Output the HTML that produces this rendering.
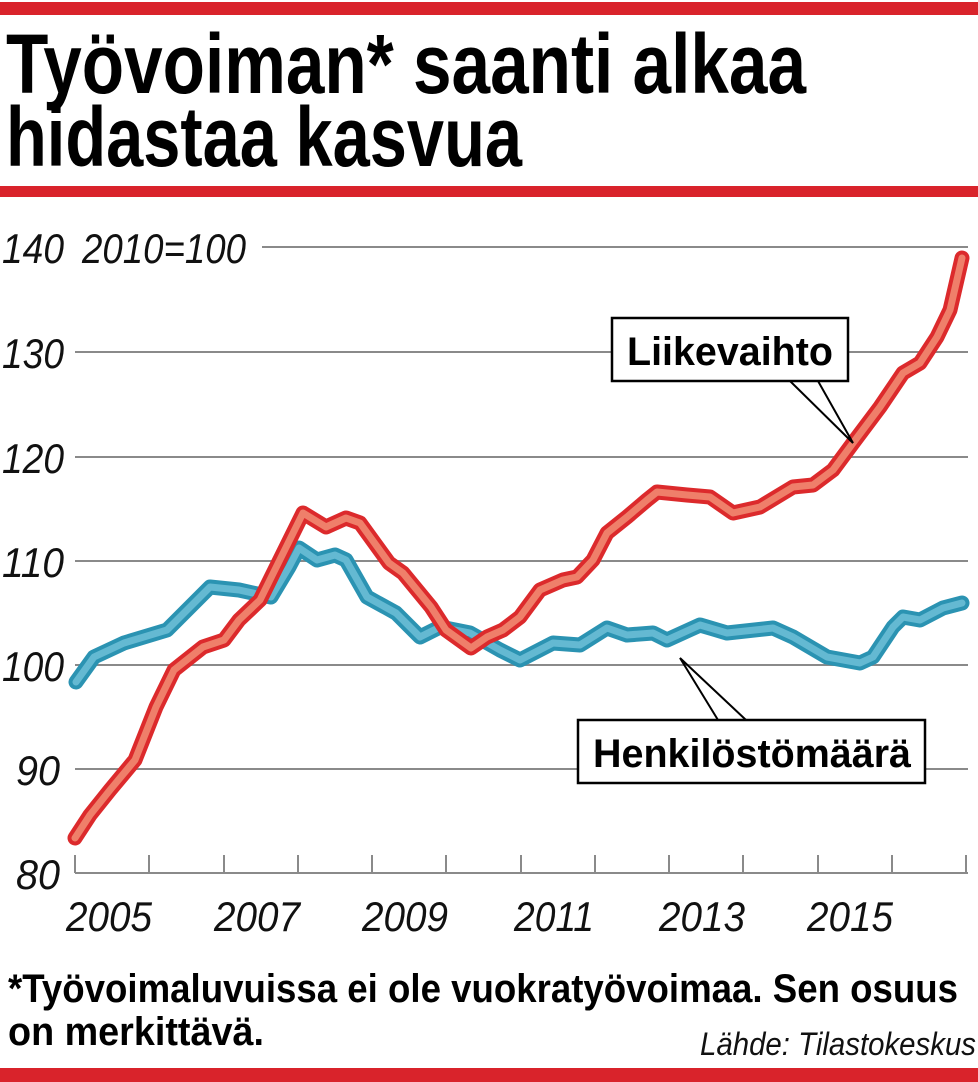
<!DOCTYPE html>
<html><head><meta charset="utf-8"><style>
html,body{margin:0;padding:0;background:#fff;width:978px;height:1082px;overflow:hidden}
svg{display:block}
</style></head><body>
<svg width="978" height="1082" viewBox="0 0 978 1082" xmlns="http://www.w3.org/2000/svg">
<rect x="0" y="2" width="978" height="13" fill="#d9232b"/>
<rect x="0" y="186" width="978" height="11" fill="#d9232b"/>
<rect x="0" y="1068" width="978" height="14" fill="#d9232b"/>
<g font-family="Liberation Sans, sans-serif" font-weight="bold" fill="#000">
<text x="6" y="93" font-size="84" textLength="800" lengthAdjust="spacingAndGlyphs">Työvoiman* saanti alkaa</text>
<text x="6" y="166" font-size="84" textLength="516" lengthAdjust="spacingAndGlyphs">hidastaa kasvua</text>
</g>
<g stroke="#8a8a8a" stroke-width="2">
<line x1="262" y1="247" x2="968" y2="247"/>
<line x1="75" y1="352" x2="968" y2="352"/>
<line x1="75" y1="457" x2="968" y2="457"/>
<line x1="75" y1="561" x2="968" y2="561"/>
<line x1="75" y1="665" x2="968" y2="665"/>
<line x1="75" y1="769" x2="968" y2="769"/>
<line x1="75" y1="873" x2="968" y2="873"/>
</g>
<g stroke="#8a8a8a" stroke-width="2">
<line x1="75" y1="855" x2="75" y2="873"/><line x1="149" y1="855" x2="149" y2="873"/><line x1="224" y1="855" x2="224" y2="873"/><line x1="298" y1="855" x2="298" y2="873"/><line x1="372" y1="855" x2="372" y2="873"/><line x1="446" y1="855" x2="446" y2="873"/><line x1="521" y1="855" x2="521" y2="873"/><line x1="595" y1="855" x2="595" y2="873"/><line x1="669" y1="855" x2="669" y2="873"/><line x1="743" y1="855" x2="743" y2="873"/><line x1="818" y1="855" x2="818" y2="873"/><line x1="892" y1="855" x2="892" y2="873"/><line x1="966" y1="855" x2="966" y2="873"/>
</g>
<g font-family="Liberation Sans, sans-serif" font-style="italic" font-size="42" fill="#111">
<text x="2" y="263" textLength="62" lengthAdjust="spacingAndGlyphs">140</text>
<text x="82" y="263" textLength="164" lengthAdjust="spacingAndGlyphs">2010=100</text>
<text x="2" y="368" textLength="62" lengthAdjust="spacingAndGlyphs">130</text>
<text x="2" y="473" textLength="62" lengthAdjust="spacingAndGlyphs">120</text>
<text x="2" y="577" textLength="62" lengthAdjust="spacingAndGlyphs">110</text>
<text x="2" y="681" textLength="62" lengthAdjust="spacingAndGlyphs">100</text>
<text x="16" y="785" textLength="44" lengthAdjust="spacingAndGlyphs">90</text>
<text x="16" y="889" textLength="44" lengthAdjust="spacingAndGlyphs">80</text>
<text x="66" y="931" textLength="86" lengthAdjust="spacingAndGlyphs">2005</text>
<text x="214" y="931" textLength="86" lengthAdjust="spacingAndGlyphs">2007</text>
<text x="362" y="931" textLength="86" lengthAdjust="spacingAndGlyphs">2009</text>
<text x="514" y="931" textLength="80" lengthAdjust="spacingAndGlyphs">2011</text>
<text x="659" y="931" textLength="86" lengthAdjust="spacingAndGlyphs">2013</text>
<text x="807" y="931" textLength="86" lengthAdjust="spacingAndGlyphs">2015</text>
</g>
<g fill="none" stroke-linecap="round" stroke-linejoin="round">
<path d="M76,682 L94,657 124,643 167,630 210,587 239,590 271,597 289,567 299,548 317,560 335,555 346,560 367,597 396,613 420,637 440,627 470,633 500,650 520,660 553,643 580,645 607,628 627,635 653,633 667,640 700,625 727,633 773,628 793,637 827,657 860,663 873,657 893,627 903,617 920,620 943,608 962,603" stroke="#2b93b2" stroke-width="15"/>
<path d="M76,682 L94,657 124,643 167,630 210,587 239,590 271,597 289,567 299,548 317,560 335,555 346,560 367,597 396,613 420,637 440,627 470,633 500,650 520,660 553,643 580,645 607,628 627,635 653,633 667,640 700,625 727,633 773,628 793,637 827,657 860,663 873,657 893,627 903,617 920,620 943,608 962,603" stroke="#64b9d2" stroke-width="7"/>
<path d="M75,838 L90,815 110,790 135,760 156,707 174,670 203,647 224,640 239,620 260,600 303,513 326,527 346,518 360,523 389,563 403,573 431,607 446,630 471,648 487,637 503,630 520,617 540,590 563,580 577,577 593,560 607,533 627,517 647,500 657,492 687,495 710,497 733,513 760,507 793,487 813,485 833,470 853,443 880,407 903,373 920,363 937,337 950,310 962,258" stroke="#dc2a2c" stroke-width="15"/>
<path d="M75,838 L90,815 110,790 135,760 156,707 174,670 203,647 224,640 239,620 260,600 303,513 326,527 346,518 360,523 389,563 403,573 431,607 446,630 471,648 487,637 503,630 520,617 540,590 563,580 577,577 593,560 607,533 627,517 647,500 657,492 687,495 710,497 733,513 760,507 793,487 813,485 833,470 853,443 880,407 903,373 920,363 937,337 950,310 962,258" stroke="#ef7f6a" stroke-width="7"/>
</g>
<g stroke="#000" stroke-width="2" fill="none">
<polyline points="790,381 853,443 818,381"/>
<polyline points="718,720 680,658 746,720"/>
</g>
<rect x="612" y="318" width="236" height="63" fill="#fff" stroke="#000" stroke-width="2.5"/>
<rect x="578" y="720" width="347" height="63" fill="#fff" stroke="#000" stroke-width="2.5"/>
<g font-family="Liberation Sans, sans-serif" font-weight="bold" font-size="40" fill="#000">
<text x="627" y="365" textLength="206" lengthAdjust="spacingAndGlyphs">Liikevaihto</text>
<text x="593" y="767" textLength="318" lengthAdjust="spacingAndGlyphs">Henkilöstömäärä</text>
</g>
<g font-family="Liberation Sans, sans-serif" font-weight="bold" font-size="40" fill="#000">
<text x="8" y="1002" textLength="950" lengthAdjust="spacingAndGlyphs">*Työvoimaluvuissa ei ole vuokratyövoimaa. Sen osuus</text>
<text x="8" y="1045" textLength="256" lengthAdjust="spacingAndGlyphs">on merkittävä.</text>
</g>
<text x="976" y="1055" text-anchor="end" font-family="Liberation Sans, sans-serif" font-style="italic" font-size="32" fill="#111" textLength="276" lengthAdjust="spacingAndGlyphs">Lähde: Tilastokeskus</text>
</svg>
</body></html>
